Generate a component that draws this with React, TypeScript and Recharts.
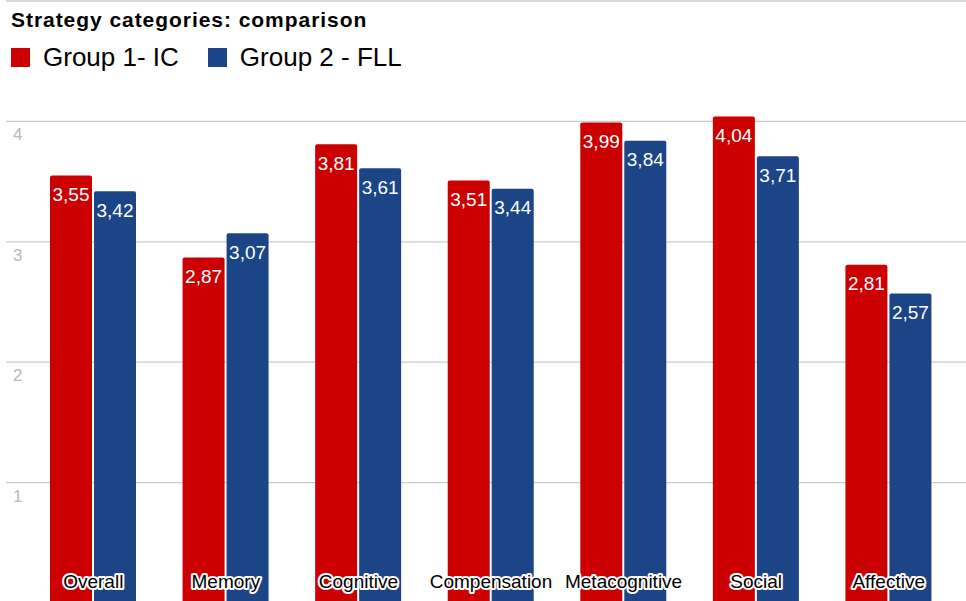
import React from "react";
import { BarChart, Bar, XAxis, YAxis, CartesianGrid, Legend, LabelList } from "recharts";

const categories = ["Overall", "Memory", "Cognitive", "Compensation", "Metacognitive", "Social", "Affective"];
const group1 = [3.55, 2.87, 3.81, 3.51, 3.99, 4.04, 2.81];
const group2 = [3.42, 3.07, 3.61, 3.44, 3.84, 3.71, 2.57];
const yTicks = [0, 1, 2, 3, 4, 5];

const seriesNames = ["Group 1- IC", "Group 2 - FLL"];
const title = "Strategy categories: comparison";

const RED = "#cc0000";
const BLUE = "#1c4587";
const FONT = '"Liberation Sans", Arial, sans-serif';

const data = categories.map((name, i) => ({ name, g1: group1[i], g2: group2[i] }));

const fmt = (v: any) => Number(v).toFixed(2).replace(".", ",");

// category names sit inside the plot, just above the baseline, with a white halo
const renderCategoryTick = (props: any) => {
  const { x, y, payload } = props;
  return (
    <text
      key={payload.value}
      x={x}
      y={y - 15}
      textAnchor="middle"
      fontSize={19}
      fontFamily={FONT}
      fill="#000"
      stroke="#fff"
      strokeWidth={4}
      strokeLinejoin="round"
      paintOrder="stroke"
    >
      {payload.value}
    </text>
  );
};

const renderValueTick = (props: any) => {
  const { x, y, payload } = props;
  if (payload.value <= 0 || payload.value >= 5) return <g key={payload.value} />;
  return (
    <text key={payload.value} x={x + 7} y={y + 19} textAnchor="start" fontSize={17} fontFamily={FONT} fill="#b7b7b7">
      {payload.value}
    </text>
  );
};

function TopLegend({ payload }: any) {
  return (
    <div style={{ fontFamily: FONT, color: "#000" }}>
      <div style={{ position: "absolute", left: 11, top: 10, fontSize: 21, fontWeight: "bold", lineHeight: "20px", whiteSpace: "nowrap", letterSpacing: 0.95 }}>
        {title}
      </div>
      <div style={{ position: "absolute", left: 11, top: 44, display: "flex", whiteSpace: "nowrap" }}>
        {(payload || []).map((p: any) => (
          <div key={p.value} style={{ display: "flex", alignItems: "center", marginRight: 29 }}>
            <span style={{ display: "inline-block", width: 19, height: 19, background: p.color, marginRight: 13 }} />
            <span style={{ fontSize: 26, lineHeight: "26px" }}>{p.value}</span>
          </div>
        ))}
      </div>
    </div>
  );
}

export default function App() {
  return (
    <div style={{ position: "absolute", left: 0, top: 0, width: 966, height: 601, overflow: "hidden", background: "#fff" }}>
      <BarChart
        width={966}
        height={604}
        data={data}
        margin={{ top: 1, right: 0, left: 0, bottom: 0 }}
        barSize={42}
        barGap={2}
      >
        <CartesianGrid horizontal vertical={false} stroke="#cccccc" strokeWidth={1.3} />
        <YAxis
          domain={[0, 5]}
          ticks={yTicks}
          width={6}
          interval={0}
          axisLine={false}
          tickLine={false}
          tickSize={0}
          tickMargin={0}
          tick={renderValueTick}
        />
        <Legend
          layout="horizontal"
          verticalAlign="middle"
          align="center"
          wrapperStyle={{ top: 0, left: 0, width: 966, height: 80 }}
          content={<TopLegend />}
        />
        <Bar dataKey="g1" name={seriesNames[0]} fill={RED} radius={[2, 2, 0, 0]} isAnimationActive={false}>
          <LabelList dataKey="g1" position="insideTop" offset={12} formatter={fmt} fill="#fff" fontSize={19} fontFamily={FONT} />
        </Bar>
        <Bar dataKey="g2" name={seriesNames[1]} fill={BLUE} radius={[2, 2, 0, 0]} isAnimationActive={false}>
          <LabelList dataKey="g2" position="insideTop" offset={12} formatter={fmt} fill="#fff" fontSize={19} fontFamily={FONT} />
        </Bar>
        <XAxis
          dataKey="name"
          height={1}
          interval={0}
          axisLine={false}
          tickLine={false}
          tickSize={0}
          tickMargin={0}
          padding={{ left: 21, right: 11 }}
          tick={renderCategoryTick}
        />
      </BarChart>
    </div>
  );
}
